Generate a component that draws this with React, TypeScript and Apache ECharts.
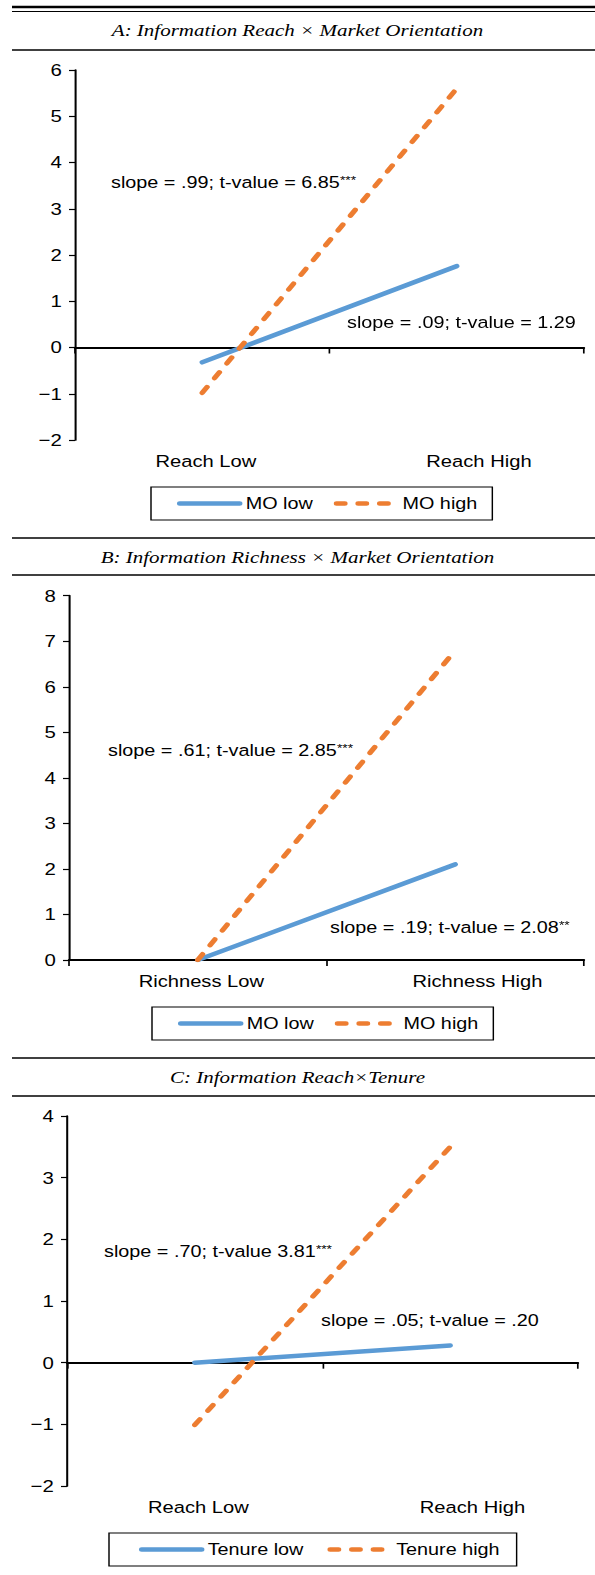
import React, { useEffect, useRef } from 'react';
import * as echarts from 'echarts';

// The reference figure is horizontally stretched; the chart is drawn narrower and stretched back with CSS.
const SX = 1.2;
const PAGE_W = 595;
const PAGE_H = 1575;
const W = PAGE_W / SX;

const BLUE = '#5B9BD5';
const ORANGE = '#ED7D31';
const FONT = 'Liberation Sans';

// ---- Data ----
const panelTitles = [
  'A: Information Reach × Market Orientation',
  'B: Information Richness × Market Orientation',
  'C: Information Reach×Tenure',
];

const categoriesA = ['Reach Low', 'Reach High'];
const categoriesB = ['Richness Low', 'Richness High'];
const categoriesC = ['Reach Low', 'Reach High'];

const seriesNamesA = ['MO low', 'MO high'];
const seriesNamesB = ['MO low', 'MO high'];
const seriesNamesC = ['Tenure low', 'Tenure high'];

const moLowA = [-0.32, 1.76];
const moHighA = [-0.98, 5.6];
const moLowB = [0, 2.1];
const moHighB = [0, 6.8];
const tenureLowC = [0, 0.28];
const tenureHighC = [-1.01, 3.5];

const yTicksA = [-2, -1, 0, 1, 2, 3, 4, 5, 6];
const yTicksB = [0, 1, 2, 3, 4, 5, 6, 7, 8];
const yTicksC = [-2, -1, 0, 1, 2, 3, 4];

const slopeTextsA = ['slope = .99; t-value = 6.85', 'slope = .09; t-value = 1.29'];
const slopeStarsA = ['***', ''];
const slopeTextsB = ['slope = .61; t-value = 2.85', 'slope = .19; t-value = 2.08'];
const slopeStarsB = ['***', '**'];
const slopeTextsC = ['slope = .70; t-value 3.81', 'slope = .05; t-value = .20'];
const slopeStarsC = ['***', ''];

// ---- Layout (reference pixel coordinates; horizontal values divided by SX) ----
const layouts = [
  {
    grid: { left: 75, right: 11, top: 70, height: 370 },
    legend: { left: 151, top: 487, pad: [8, 15, 8, 26], gap: 21 },
    ann: [[111, 183], [347, 323]],
    titleY: 30.5,
  },
  {
    grid: { left: 69, right: 11, top: 595.7, height: 364.3 },
    legend: { left: 152, top: 1007, pad: [8, 15, 8, 26], gap: 21 },
    ann: [[108, 751], [330, 928]],
    titleY: 557.5,
  },
  {
    grid: { left: 67, right: 17, top: 1116, height: 370 },
    legend: { left: 109, top: 1533, pad: [8, 17, 8, 30], gap: 24 },
    ann: [[104, 1252], [321, 1321]],
    titleY: 1077,
  },
];

const rules = [
  { y: 7, w: 2.5 },
  { y: 11.5, w: 1.2 },
  { y: 50, w: 1.3 },
  { y: 538, w: 1.3 },
  { y: 575, w: 1.3 },
  { y: 1058, w: 1.3 },
  { y: 1096, w: 1.3 },
];

const panels = [
  { cats: categoriesA, names: seriesNamesA, low: moLowA, high: moHighA, ticks: yTicksA, texts: slopeTextsA, stars: slopeStarsA },
  { cats: categoriesB, names: seriesNamesB, low: moLowB, high: moHighB, ticks: yTicksB, texts: slopeTextsB, stars: slopeStarsB },
  { cats: categoriesC, names: seriesNamesC, low: tenureLowC, high: tenureHighC, ticks: yTicksC, texts: slopeTextsC, stars: slopeStarsC },
];

function buildOption() {
  const grid = layouts.map((l) => ({
    left: l.grid.left / SX,
    right: l.grid.right / SX,
    top: l.grid.top,
    height: l.grid.height,
    containLabel: false,
  }));

  const xAxis: any[] = [];
  panels.forEach((p, i) => {
    xAxis.push({
      type: 'category',
      gridIndex: i,
      data: p.cats,
      boundaryGap: true,
      position: 'bottom',
      axisLine: { show: true, onZero: true, lineStyle: { color: '#000', width: 2 } },
      axisTick: { show: true, length: 6, lineStyle: { color: '#000', width: 1.4 } },
      axisLabel: { show: false },
      splitLine: { show: false },
    });
    xAxis.push({
      type: 'category',
      gridIndex: i,
      data: p.cats,
      boundaryGap: true,
      position: 'bottom',
      axisLine: { show: false, onZero: false },
      axisTick: { show: false },
      axisLabel: {
        show: true,
        margin: 13,
        interval: 0,
        formatter: (v: string, idx: number) => (idx === 0 ? `{a|${v}}` : `{b|${v}}`),
        rich: {
          a: { fontSize: 16.8, fontFamily: FONT, color: '#000', padding: [0, 0, 0, 6] },
          b: { fontSize: 16.8, fontFamily: FONT, color: '#000', padding: [0, 0, 0, 37] },
        },
      },
      splitLine: { show: false },
    });
  });

  const yAxis = panels.map((p, i) => ({
    type: 'value',
    gridIndex: i,
    min: p.ticks[0],
    max: p.ticks[p.ticks.length - 1],
    interval: p.ticks[1] - p.ticks[0],
    axisLine: { show: true, onZero: false, lineStyle: { color: '#000', width: 1.7 } },
    axisTick: { show: true, length: 5, lineStyle: { color: '#000', width: 1.2 } },
    axisLabel: {
      margin: 11,
      fontSize: 17,
      fontFamily: FONT,
      color: '#000',
      formatter: (v: number) => (v < 0 ? '\u2212' + Math.abs(v) : String(v)),
    },
    splitLine: { show: false },
  }));

  const series: any[] = [];
  panels.forEach((p, i) => {
    series.push({
      type: 'line',
      name: p.names[0],
      xAxisIndex: 2 * i,
      yAxisIndex: i,
      data: p.low,
      symbol: 'none',
      lineStyle: { color: BLUE, width: 4.5, cap: 'round' },
      itemStyle: { color: BLUE },
      z: 3,
    });
    series.push({
      type: 'line',
      name: p.names[1],
      xAxisIndex: 2 * i,
      yAxisIndex: i,
      data: p.high,
      symbol: 'none',
      lineStyle: { color: ORANGE, width: 4.5, type: [7, 11], cap: 'round' },
      itemStyle: { color: ORANGE },
      z: 4,
    });
  });

  const legend = panels.map((p, i) => {
    const l = layouts[i].legend;
    return {
      data: p.names,
      left: l.left / SX,
      top: l.top,
      orient: 'horizontal',
      padding: [l.pad[0], l.pad[1] / SX, l.pad[2], l.pad[3] / SX],
      itemGap: l.gap / SX,
      itemWidth: 50,
      itemHeight: 14,
      selectedMode: false,
      borderColor: '#000',
      borderWidth: 1.2,
      borderRadius: 0,
      textStyle: { fontSize: 16.5, fontFamily: FONT, color: '#000' },
      lineStyle: { width: 4.5 },
      itemStyle: { color: 'rgba(0,0,0,0)', borderWidth: 0, opacity: 0 },
    };
  });

  const elements: any[] = [];
  rules.forEach((r) => {
    elements.push({
      type: 'line',
      shape: { x1: 12 / SX, y1: r.y, x2: W, y2: r.y },
      style: { stroke: '#000', lineWidth: r.w },
      z: 10,
    });
  });
  panelTitles.forEach((t, i) => {
    elements.push({
      type: 'text',
      x: 297.5 / SX,
      y: layouts[i].titleY,
      style: {
        text: t,
        font: 'italic 17.5px "Liberation Serif"',
        fill: '#000',
        align: 'center',
        verticalAlign: 'middle',
      },
      z: 10,
    });
  });
  panels.forEach((p, i) => {
    p.texts.forEach((t, k) => {
      const [ax, ay] = layouts[i].ann[k];
      const stars = p.stars[k];
      elements.push({
        type: 'text',
        x: ax / SX,
        y: ay,
        style: {
          text: stars ? `${t}{sup|${stars}}` : t,
          font: `16.5px "${FONT}"`,
          fill: '#000',
          align: 'left',
          verticalAlign: 'middle',
          rich: {
            sup: { fontSize: 11.5, fontFamily: FONT, fill: '#000', verticalAlign: 'top', lineHeight: 11 },
          },
        },
        z: 10,
      });
    });
  });

  return {
    animation: false,
    backgroundColor: '#fff',
    textStyle: { fontFamily: FONT, color: '#000' },
    grid,
    xAxis,
    yAxis,
    series,
    legend,
    graphic: { elements },
  };
}

export default function App() {
  const ref = useRef<HTMLDivElement>(null);
  useEffect(() => {
    if (!ref.current) return;
    const chart = echarts.init(ref.current, undefined, { renderer: 'svg', width: W, height: PAGE_H });
    chart.setOption(buildOption() as any);
    return () => chart.dispose();
  }, []);
  return (
    <div
      style={{
        position: 'absolute',
        left: 0,
        top: 0,
        width: PAGE_W,
        height: PAGE_H,
        overflow: 'hidden',
        background: '#fff',
      }}
    >
      <div
        ref={ref}
        style={{ width: W, height: PAGE_H, transform: `scaleX(${SX})`, transformOrigin: '0 0' }}
      />
    </div>
  );
}
